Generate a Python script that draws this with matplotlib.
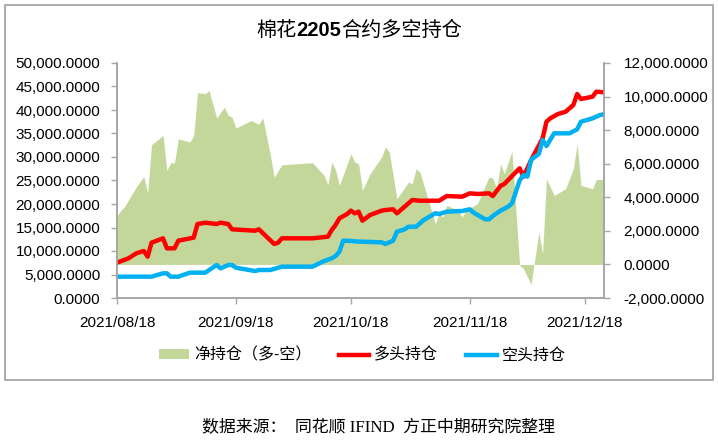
import matplotlib
matplotlib.use("Agg")
import matplotlib.pyplot as plt
from matplotlib.patches import Rectangle, Patch
from matplotlib.lines import Line2D
from matplotlib.ticker import FuncFormatter
import matplotlib.dates as mdates
import pandas as pd

plt.rcParams['font.family'] = ['Liberation Sans', 'Noto Sans CJK SC']

# net position (long - short), right axis
net_dates = ['08-18', '08-19', '08-20', '08-23', '08-25', '08-26', '08-27', '08-30', '08-31',
             '09-01', '09-02', '09-03', '09-06', '09-07', '09-08', '09-10', '09-11', '09-13',
             '09-15', '09-16', '09-17', '09-18', '09-22', '09-24', '09-25', '09-27', '09-28',
             '09-30', '10-08', '10-11', '10-12', '10-13', '10-14', '10-15', '10-18', '10-19',
             '10-20', '10-21', '10-23', '10-26', '10-27', '10-28', '10-30', '11-02', '11-03',
             '11-04', '11-05', '11-08', '11-09', '11-10', '11-11', '11-12', '11-15', '11-16',
             '11-17', '11-20', '11-23', '11-24', '11-25', '11-26', '11-27', '11-29', '12-01',
             '12-02', '12-04', '12-06', '12-07', '12-08', '12-10', '12-13', '12-15', '12-16',
             '12-17', '12-20', '12-21', '12-23']
net_values = [2877, 3217, 3455, 4605, 5242, 4248, 7130, 7684, 5600,
              6058, 6058, 7487, 7286, 7684, 10228, 10168, 10366, 8716,
              9371, 8876, 8776, 8120, 8578, 8340, 8736, 6493, 5203,
              5938, 6058, 5302, 4745, 6095, 5640, 4706, 6593, 6095,
              6000, 4408, 5401, 6394, 6990, 6692, 3912, 4904, 4805,
              5699, 5500, 3217, 2423, 3018, 2819, 3515, 3217, 2819,
              3217, 3613, 5203, 5143, 4507, 5997, 5401, 6731, -60,
              -250, -1200, 1926, 650, 5100, 4110, 4507, 5700, 7190,
              4706, 4507, 5063, 5063]

# long positions, left axis
long_dates = ['08-18', '08-21', '08-23', '08-25', '08-26', '08-27', '08-30', '08-31', '09-02',
              '09-03', '09-07', '09-08', '09-10', '09-13', '09-14', '09-16', '09-17', '09-23',
              '09-24', '09-26', '09-28', '09-29', '09-30', '10-08', '10-12', '10-13', '10-14',
              '10-15', '10-17', '10-18', '10-19', '10-20', '10-21', '10-23', '10-26', '10-27',
              '10-29', '10-30', '11-01', '11-03', '11-05', '11-10', '11-12', '11-16', '11-18',
              '11-20', '11-23', '11-24', '11-26', '11-27', '12-01', '12-02', '12-04', '12-07',
              '12-08', '12-09', '12-11', '12-13', '12-15', '12-16', '12-17', '12-20', '12-21',
              '12-23']
long_values = [7518, 8440, 9500, 10000, 8800, 11770, 12700, 10570, 10570,
               12200, 12840, 15745, 16020, 15745, 16020, 15745, 14610, 14320,
               14610, 13050, 11490, 11770, 12700, 12700, 13050, 14470, 15530,
               16950, 17870, 18580, 18020, 18370, 16450, 17660, 18580, 18720,
               18870, 18020, 19430, 20850, 20700, 20700, 21700, 21550, 22270,
               22130, 22270, 21700, 23830, 24260, 27600, 25800, 29360, 33980,
               37510, 38230, 39150, 39640, 41060, 43400, 42340, 42830, 43900,
               43770]

# short positions, left axis
short_dates = ['08-18', '08-27', '08-30', '08-31', '09-01', '09-03', '09-06', '09-10', '09-13',
               '09-14', '09-16', '09-17', '09-18', '09-23', '09-24', '09-27', '09-30', '10-08',
               '10-11', '10-13', '10-14', '10-15', '10-16', '10-18', '10-20', '10-26', '10-27',
               '10-29', '10-30', '11-01', '11-02', '11-04', '11-06', '11-09', '11-10', '11-12',
               '11-16', '11-18', '11-19', '11-22', '11-23', '11-24', '11-26', '11-28', '11-29',
               '12-01', '12-02', '12-03', '12-04', '12-06', '12-07', '12-08', '12-10', '12-14',
               '12-16', '12-17', '12-20', '12-22', '12-23']
short_values = [4540, 4540, 5250, 5250, 4540, 4540, 5390, 5390, 7020,
                6310, 7020, 7020, 6450, 5740, 5960, 5960, 6670, 6670,
                7870, 8440, 8940, 9850, 12200, 12130, 12000, 11850, 11490,
                12200, 14110, 14610, 15170, 15170, 16600, 18020, 17870, 18370,
                18510, 18870, 18150, 16750, 16750, 17450, 18580, 19430, 20140,
                25000, 26170, 25810, 29430, 30640, 33620, 32340, 35040, 35040,
                35890, 37510, 38230, 38940, 39090]

labels = ['净持仓（多-空）', '多头持仓', '空头持仓']
xtick_dates = ['08-18', '09-18', '10-18', '11-18', '12-18']
# title pieces: the digits are bold in the original
title_parts = [('棉花', 'normal'), ('2205', 'bold'), ('合约多空持仓', 'normal')]


def to_dt(days):
    return pd.to_datetime(['2021-' + d for d in days])


green = '#C4D79B'
red = '#FF0000'
blue = '#00B0F0'
gray = '#A6A6A6'

fig = plt.figure(figsize=(7.18, 4.42), dpi=100)
fig.patches.append(Rectangle((5 / 718, 1 - 380 / 442), 708 / 718, 375 / 442,
                             transform=fig.transFigure, fill=False,
                             edgecolor=gray, lw=1.3))

ax = fig.add_axes([117 / 718, 1 - 298 / 442, 487 / 718, 235 / 442])
ax2 = ax.twinx()

ax2.fill_between(to_dt(net_dates), net_values, 0, color=green, lw=0)
ax.plot(to_dt(long_dates), long_values, color=red, lw=3.2, solid_joinstyle='round')
ax.plot(to_dt(short_dates), short_values, color=blue, lw=3.2, solid_joinstyle='round')

ax.set_zorder(ax2.get_zorder() + 1)
ax.patch.set_visible(False)

ax.set_xlim(pd.Timestamp('2021-08-18'), pd.Timestamp('2021-12-23'))
ax.set_ylim(0, 50000)
ax2.set_ylim(-2000, 12000)
ax.set_yticks(range(0, 50001, 5000))
ax2.set_yticks(range(-2000, 12001, 2000))
fmt = FuncFormatter(lambda v, p: '{:,.4f}'.format(v))
ax.yaxis.set_major_formatter(fmt)
ax2.yaxis.set_major_formatter(fmt)
ax.set_xticks(to_dt(xtick_dates))
ax.xaxis.set_major_formatter(mdates.DateFormatter('%Y/%m/%d'))

for a in (ax, ax2):
    a.spines['top'].set_visible(False)
    for s in ('left', 'right', 'bottom'):
        a.spines[s].set_color(gray)
        a.spines[s].set_linewidth(1.2)
    a.tick_params(axis='both', direction='out', length=4, width=1, color=gray,
                  labelsize=11, labelcolor='#000000')
ax.tick_params(axis='y', pad=8)
ax2.tick_params(axis='y', pad=10)
ax.tick_params(axis='x', pad=9)

handles = [Patch(facecolor=green, edgecolor='none'),
           Line2D([], [], color=red, lw=3.2),
           Line2D([], [], color=blue, lw=3.2)]
fig.legend(handles, labels, loc='center', bbox_to_anchor=(362 / 718, 1 - 355 / 442),
           ncol=3, frameon=False, fontsize=11.5, handlelength=1.9, handleheight=0.5,
           handletextpad=0.3, columnspacing=1.75)

# title built from pieces so that only the digits are bold
renderer = fig.canvas.get_renderer()
x = 256 / 718
for txt, weight in title_parts:
    t = fig.text(x, 1 - 36 / 442, txt, ha='left', va='baseline', fontsize=14.5,
                 fontweight=weight)
    x = t.get_window_extent(renderer).x1 / fig.bbox.width

fig.text(378 / 718, 1 - 428 / 442, '数据来源：  同花顺 IFIND  方正中期研究院整理',
         ha='center', va='center', fontsize=12.2,
         family=['Liberation Serif', 'Noto Sans CJK SC'])

fig.savefig('out.png', dpi=100)
